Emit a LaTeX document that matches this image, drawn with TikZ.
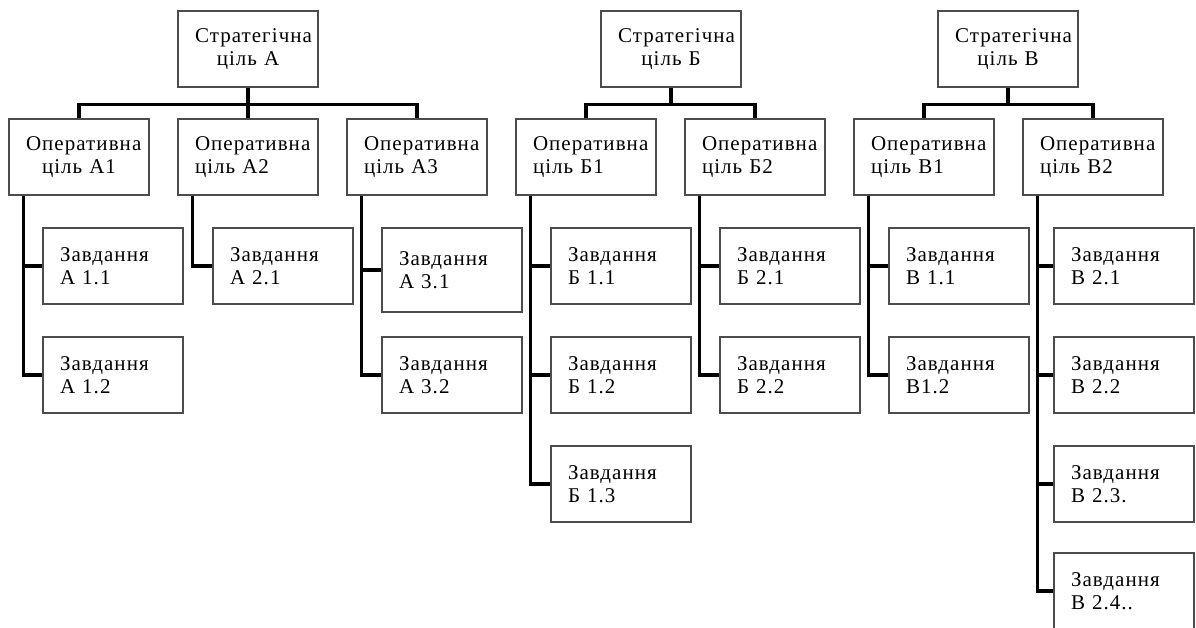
\documentclass[tikz,border=0pt]{standalone}
\usepackage{fontspec}
\setmainfont{Liberation Serif}[LetterSpace=5]

\begin{document}
\begin{tikzpicture}[x=1pt,y=-1pt,
    goal/.style={rectangle,draw=black!70,line width=1.2pt,fill=white,
                 text width=106pt,inner xsep=17pt,inner ysep=0pt,
                 minimum height=76pt,font=\fontsize{21}{23.5}\selectfont},
    stratgoal/.style={goal,align=center},
    opgoal/.style={goal,align=left},
    task/.style={goal,align=left}]
\useasboundingbox (0,0) rectangle (1196,627);

% strategic goals
\node[stratgoal] (sA) at (248,49) {Стратегічна\\ціль А};
\node[stratgoal] (sB) at (671,49) {Стратегічна\\ціль Б};
\node[stratgoal] (sV) at (1008,49) {Стратегічна\\ціль В};

% operational goals
\begin{scope}[every node/.style={opgoal}]
    \node[align=center] (oA1) at (79,157) {Оперативна\\ціль А1};
    \node (oA2) at (248,157) {Оперативна\\ціль А2};
    \node (oA3) at (417,157) {Оперативна\\ціль А3};
    \node (oB1) at (586,157) {Оперативна\\ціль Б1};
    \node (oB2) at (755,157) {Оперативна\\ціль Б2};
    \node (oV1) at (924,157) {Оперативна\\ціль В1};
    \node (oV2) at (1093,157) {Оперативна\\ціль В2};
\end{scope}

% tasks
\begin{scope}[every node/.style={task}]
    \node (tA11) at (113,266) {Завдання\\А 1.1};
    \node (tA12) at (113,375) {Завдання\\А 1.2};
    \node (tA21) at (283,266) {Завдання\\А 2.1};
    \node[minimum height=84pt] (tA31) at (452,270) {Завдання\\А 3.1};
    \node (tA32) at (452,375) {Завдання\\А 3.2};
    \node (tB11) at (621,266) {Завдання\\Б 1.1};
    \node (tB12) at (621,375) {Завдання\\Б 1.2};
    \node (tB13) at (621,484) {Завдання\\Б 1.3};
    \node (tB21) at (790,266) {Завдання\\Б 2.1};
    \node (tB22) at (790,375) {Завдання\\Б 2.2};
    \node (tV11) at (959,266) {Завдання\\В 1.1};
    \node (tV12) at (959,375) {Завдання\\В1.2};
    \node (tV21) at (1124,266) {Завдання\\В 2.1};
    \node (tV22) at (1124,375) {Завдання\\В 2.2};
    \node (tV23) at (1124,484) {Завдання\\В 2.3.};
    \node (tV24) at (1124,591) {Завдання\\В 2.4..};
\end{scope}

% strategic -> operational
\begin{scope}[every edge/.style={draw=black,line width=3.5pt,
              to path={-- ++(0,17) -| (\tikztotarget)}}]
    \path (sA.south) edge (oA1.north);
    \path (sA.south) edge (oA2.north);
    \path (sA.south) edge (oA3.north);
    \path (sB.south) edge (oB1.north);
    \path (sB.south) edge (oB2.north);
    \path (sV.south) edge (oV1.north);
    \path (sV.south) edge (oV2.north);
\end{scope}

% operational -> tasks
\begin{scope}[every edge/.style={draw=black,line width=3.5pt,
              to path={|- (\tikztotarget)}}]
    \path ([xshift=15pt]oA1.south west) edge (tA11.west);
    \path ([xshift=15pt]oA1.south west) edge (tA12.west);
    \path ([xshift=15pt]oA2.south west) edge (tA21.west);
    \path ([xshift=15pt]oA3.south west) edge (tA31.west);
    \path ([xshift=15pt]oA3.south west) edge (tA32.west);
    \path ([xshift=15pt]oB1.south west) edge (tB11.west);
    \path ([xshift=15pt]oB1.south west) edge (tB12.west);
    \path ([xshift=15pt]oB1.south west) edge (tB13.west);
    \path ([xshift=15pt]oB2.south west) edge (tB21.west);
    \path ([xshift=15pt]oB2.south west) edge (tB22.west);
    \path ([xshift=15pt]oV1.south west) edge (tV11.west);
    \path ([xshift=15pt]oV1.south west) edge (tV12.west);
    \path ([xshift=15pt]oV2.south west) edge (tV21.west);
    \path ([xshift=15pt]oV2.south west) edge (tV22.west);
    \path ([xshift=15pt]oV2.south west) edge (tV23.west);
    \path ([xshift=15pt]oV2.south west) edge (tV24.west);
\end{scope}
\end{tikzpicture}
\end{document}
